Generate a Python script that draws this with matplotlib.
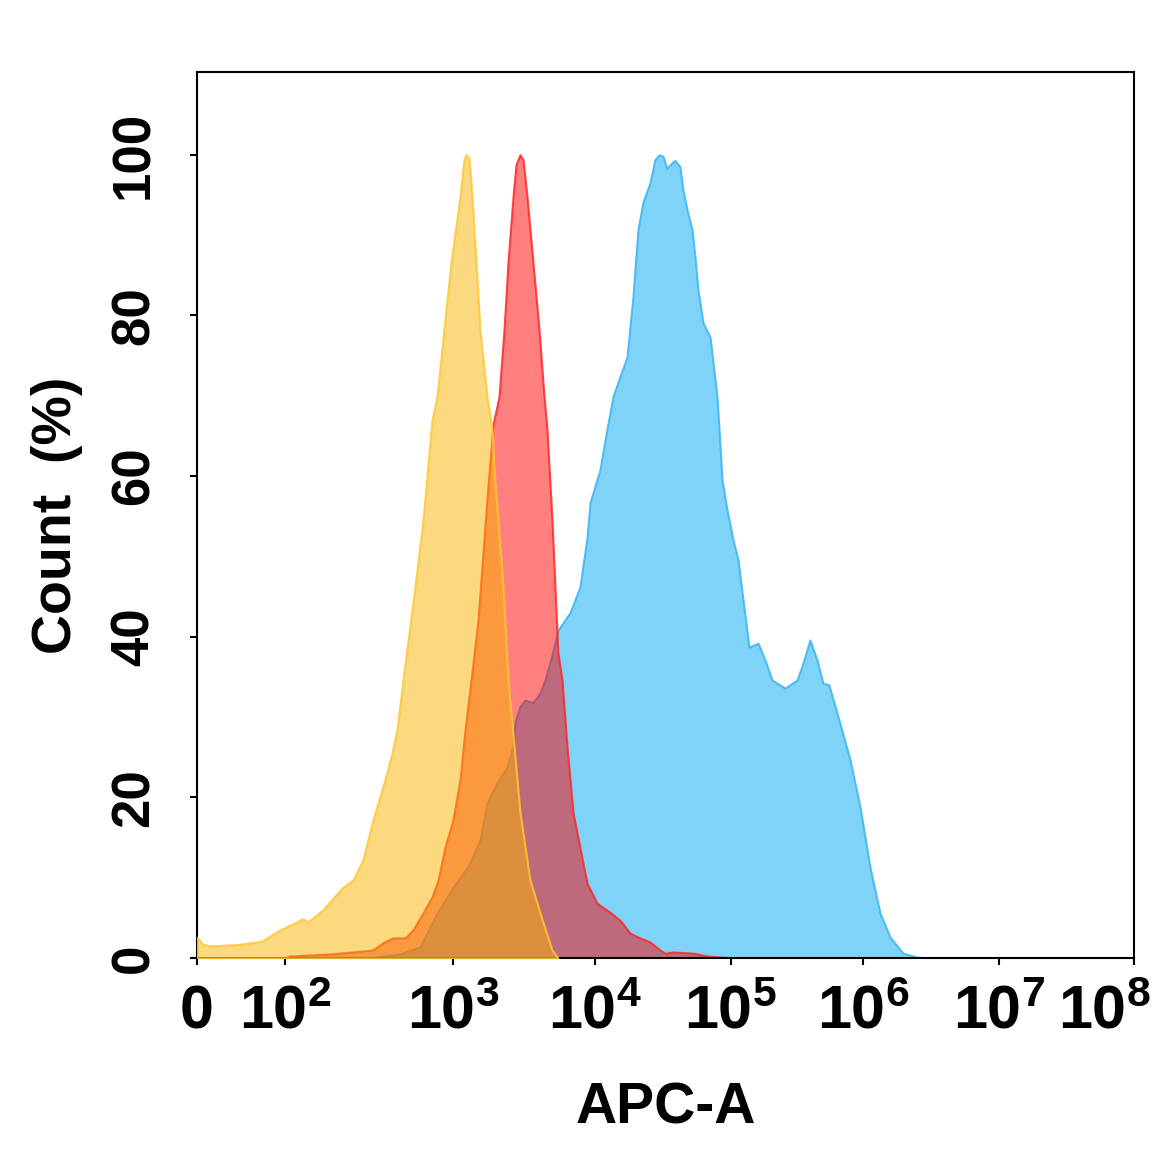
import numpy as np
import matplotlib.pyplot as plt
from matplotlib.transforms import ScaledTranslation

plt.rcParams['font.family'] = ['Liberation Sans', 'DejaVu Sans']
plt.rcParams['font.weight'] = 'bold'
plt.rcParams['mathtext.fontset'] = 'custom'
plt.rcParams['mathtext.rm'] = 'Liberation Sans:bold'
plt.rcParams['mathtext.it'] = 'Liberation Sans:bold'
plt.rcParams['mathtext.bf'] = 'Liberation Sans:bold'

# --- histogram data (APC-A intensity, count %) ---
yellow_x = [0, 2, 5, 20, 45, 84, 123, 126, 137, 168, 221, 254, 291, 334, 383, 434,
            464, 504, 594, 663, 750, 804, 883, 973, 1120, 1195, 1236, 1297, 1361,
            1452, 1549, 1735, 1883, 1945, 2075, 2250, 2440, 2600, 2963, 3483, 4100,
            4980, 5480]
yellow_y = [2.6, 1.7, 1.5, 1.7, 2.1, 3.5, 4.7, 4.9, 4.5, 6.0, 8.8, 9.7, 12.2, 17.2,
            21.3, 25.5, 28.4, 34.6, 46.2, 54.5, 67.0, 69.9, 78.2, 86.6, 94.8, 99.4,
            100, 99.6, 94.8, 86.6, 78.2, 69.9, 65.8, 60.8, 54.5, 46.2, 34.6, 29.3,
            18.1, 9.7, 5.6, 1.0, 0]

red_x = [100, 107, 185, 254, 334, 383, 440, 518, 578, 663, 750, 815, 896, 1000, 1120,
         1215, 1340, 1500, 1626, 1762, 1914, 2110, 2287, 2440, 2648, 2780, 2963,
         3111, 3319, 3656, 4036, 4375, 4592, 4980, 5224, 5480, 5860, 6350, 7000,
         8230, 8790, 10350, 12900, 15270, 18070, 21400, 25360, 30060, 32730, 37500,
         52600, 66700, 83000, 103500]
red_y = [0, 0.25, 0.5, 0.75, 1.0, 1.9, 2.5, 2.5, 3.5, 5.6, 7.6, 9.7, 13.8, 17.2, 22.2,
         28.4, 34.6, 42.1, 50.4, 58.7, 66.4, 69.9, 78.2, 86.6, 94.8, 98.8, 100, 99.4,
         94.8, 86.6, 78.2, 69.9, 65.8, 54.5, 46.2, 38.0, 34.6, 26.3, 18.1, 11.8, 9.3,
         6.8, 5.7, 4.7, 3.1, 2.5, 2.0, 1.0, 0.6, 0.75, 0.6, 0.25, 0.12, 0]

blue_x = [321, 484, 637, 804, 1000, 1318, 1549, 1735, 2040, 2400, 2648, 2736, 2963,
          3214, 3656, 4100, 4446, 4980, 5480, 6670, 7840, 8790, 9230, 10880, 11850,
          13560, 15270, 17180, 19010, 20700, 22540, 25360, 27600, 29570, 31620,
          33820, 36810, 38730, 42170, 44360, 47430, 51640, 54330, 57150, 62230,
          70150, 73800, 78900, 81660, 85900, 93500, 103500, 113000, 123300, 136900,
          160200, 181000, 204700, 256600, 316200, 351000, 396000, 448400, 497800,
          552000, 635000, 797000, 949000, 1125000, 1333000, 1581000, 1968000,
          2495000, 3273000]
blue_y = [0, 0.5, 1.4, 5.6, 8.8, 11.8, 14.7, 19.3, 21.8, 23.8, 26.3, 29.3, 31.3, 32.1,
          31.8, 33.0, 34.6, 37.7, 40.8, 43.0, 46.2, 52.4, 56.7, 60.8, 64.5, 69.9,
          72.4, 74.8, 82.3, 90.7, 94.1, 96.5, 99.4, 100, 99.8, 98.3, 99.0, 99.3,
          98.5, 95.6, 93.2, 90.7, 87.3, 83.2, 79.1, 77.3, 74.1, 69.9, 65.8, 59.5,
          55.8, 52.1, 49.6, 44.6, 38.7, 39.2, 37.1, 34.6, 33.6, 34.6, 36.7, 39.6,
          37.1, 34.2, 34.0, 30.5, 24.7, 18.8, 11.3, 5.6, 2.6, 0.6, 0.1, 0]

tick_vals = [0, 1e2, 1e3, 1e4, 1e5, 1e6, 1e7, 1e8]
tick_labels = ['0', r'$10^{2}$', r'$10^{3}$', r'$10^{4}$', r'$10^{5}$',
               r'$10^{6}$', r'$10^{7}$', r'$10^{8}$']
# relative width of each section of the instrument's display axis
section_pos = [0, 88, 256, 398, 534, 666, 802, 937]

G = np.arcsinh(np.array(tick_vals) / 10.0)
P = np.array(section_pos, dtype=float)


def forward(x):
    return np.interp(np.arcsinh(np.asarray(x, dtype=float) / 10.0), G, P)


def inverse(p):
    return 10.0 * np.sinh(np.interp(np.asarray(p, dtype=float), P, G))


fig = plt.figure(figsize=(11.52, 11.52), dpi=100)
ax = fig.add_axes([197 / 1152, 1 - 958 / 1152, 937 / 1152, 886 / 1152])
ax.set_xscale('function', functions=(forward, inverse))

ax.fill_between(blue_x, blue_y, 0, facecolor=(0.0, 0.66, 0.96, 0.5),
                edgecolor=(0.25, 0.72, 0.95, 0.9), linewidth=1.5, zorder=1)
ax.fill_between(red_x, red_y, 0, facecolor=(1.0, 0.0, 0.0, 0.5),
                edgecolor=(1.0, 0.15, 0.15, 0.85), linewidth=1.5, zorder=2)
ax.fill_between(yellow_x, yellow_y, 0, facecolor=(0.985, 0.70, 0.0, 0.5),
                edgecolor=(1.0, 0.78, 0.2, 0.85), linewidth=1.5, zorder=3)

ax.set_xlim(0, 1e8)
ax.set_ylim(0, 110.3)
ax.set_xticks(tick_vals)
ax.set_xticklabels(tick_labels)
ax.xaxis.set_minor_locator(plt.NullLocator())
ax.set_yticks([0, 20, 40, 60, 80, 100])

for s in ax.spines.values():
    s.set_linewidth(1.5)
ax.tick_params(axis='both', direction='out', length=5, width=1.5)
ax.tick_params(axis='x', pad=14, labelsize=44)
ax.tick_params(axis='y', pad=22, labelsize=38, labelrotation=90)
for lab in ax.get_yticklabels():
    lab.set_va('center')

xl = ax.get_xticklabels()
xl[-1].set_ha('right')
xl[-1].set_transform(xl[-1].get_transform() + ScaledTranslation(17 / 100, 0, fig.dpi_scale_trans))

ax.set_xlabel('APC-A', fontsize=41, fontweight='bold')
ax.xaxis.set_label_coords(0.5, -0.139)
ax.set_ylabel('Count  (%)', fontsize=40, fontweight='bold')
ax.yaxis.set_label_coords(-0.122, 0.5)

fig.savefig('out.png', dpi=100, facecolor='white')
